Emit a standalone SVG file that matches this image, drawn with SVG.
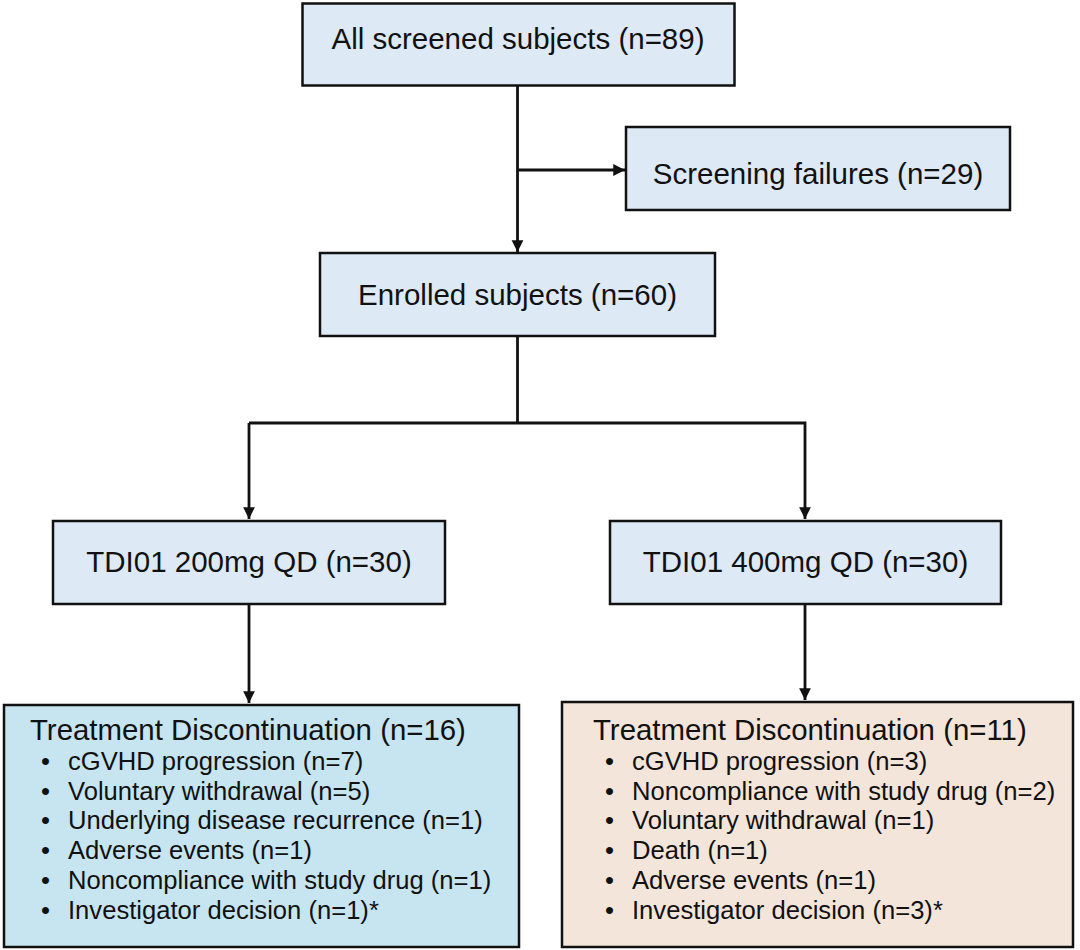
<svg xmlns="http://www.w3.org/2000/svg" width="1080" height="950" viewBox="0 0 1080 950">
<defs>
<style>
.box{fill:#dde9f5;stroke:#111;stroke-width:2.5}
.cyan{fill:#c6e5f0;stroke:#111;stroke-width:2.5}
.beige{fill:#f3e5da;stroke:#111;stroke-width:2.5}
.t{font-family:"Liberation Sans",Arial,sans-serif;font-size:29.5px;fill:#111;text-anchor:middle}
.h{font-family:"Liberation Sans",Arial,sans-serif;font-size:29.4px;fill:#111}
.b{font-family:"Liberation Sans",Arial,sans-serif;font-size:25.6px;fill:#111}
.ln{fill:none;stroke:#111;stroke-width:2.8}
</style>
<marker id="ar" viewBox="0 0 10 10" refX="10" refY="5" markerWidth="4.2" markerHeight="4.6" orient="auto" markerUnits="strokeWidth">
<path d="M0,0 L10,5 L0,10 z" fill="#111"/>
</marker>
</defs>
<rect width="1080" height="950" fill="#fff"/>
<g id="connectors">
<line class="ln" x1="517.5" y1="86" x2="517.5" y2="252" marker-end="url(#ar)"/>
<line class="ln" x1="517.5" y1="170" x2="625" y2="170" marker-end="url(#ar)"/>
<line class="ln" x1="517.5" y1="336" x2="517.5" y2="423"/>
<polyline class="ln" points="249,423 805,423 805,519" marker-end="url(#ar)"/>
<line class="ln" x1="249" y1="423" x2="249" y2="519" marker-end="url(#ar)"/>
<line class="ln" x1="249" y1="604" x2="249" y2="703" marker-end="url(#ar)"/>
<line class="ln" x1="805" y1="604" x2="805" y2="700" marker-end="url(#ar)"/>
</g>
<g id="screened">
<rect class="box" x="302.5" y="3.5" width="432" height="82"/>
<text class="t" x="518" y="49">All screened subjects (n=89)</text>
</g>
<g id="failures">
<rect class="box" x="626" y="127" width="384" height="83"/>
<text class="t" x="818" y="184">Screening failures (n=29)</text>
</g>
<g id="enrolled">
<rect class="box" x="320" y="253" width="395" height="83"/>
<text class="t" x="517.5" y="305">Enrolled subjects (n=60)</text>
</g>
<g id="arm200">
<rect class="box" x="53" y="521" width="392" height="83"/>
<text class="t" x="249" y="572">TDI01 200mg QD (n=30)</text>
</g>
<g id="arm400">
<rect class="box" x="610" y="521" width="391" height="83"/>
<text class="t" x="805.5" y="572">TDI01 400mg QD (n=30)</text>
</g>
<g id="disc200">
<rect class="cyan" x="4" y="705" width="515" height="242"/>
<text class="h" x="30" y="740">Treatment Discontinuation (n=16)</text>
<g class="b">
<text x="41" y="770">•</text><text x="68" y="770">cGVHD progression (n=7)</text>
<text x="41" y="800">•</text><text x="68" y="800">Voluntary withdrawal (n=5)</text>
<text x="41" y="829">•</text><text x="68" y="829">Underlying disease recurrence (n=1)</text>
<text x="41" y="859">•</text><text x="68" y="859">Adverse events (n=1)</text>
<text x="41" y="889">•</text><text x="68" y="889">Noncompliance with study drug (n=1)</text>
<text x="41" y="919">•</text><text x="68" y="919">Investigator decision (n=1)*</text>
</g>
</g>
<g id="disc400">
<rect class="beige" x="562" y="702" width="511" height="245"/>
<text class="h" x="593" y="740">Treatment Discontinuation (n=11)</text>
<g class="b">
<text x="605" y="770">•</text><text x="632" y="770">cGVHD progression (n=3)</text>
<text x="605" y="800">•</text><text x="632" y="800">Noncompliance with study drug (n=2)</text>
<text x="605" y="829">•</text><text x="632" y="829">Voluntary withdrawal (n=1)</text>
<text x="605" y="859">•</text><text x="632" y="859">Death (n=1)</text>
<text x="605" y="889">•</text><text x="632" y="889">Adverse events (n=1)</text>
<text x="605" y="919">•</text><text x="632" y="919">Investigator decision (n=3)*</text>
</g>
</g>
</svg>
